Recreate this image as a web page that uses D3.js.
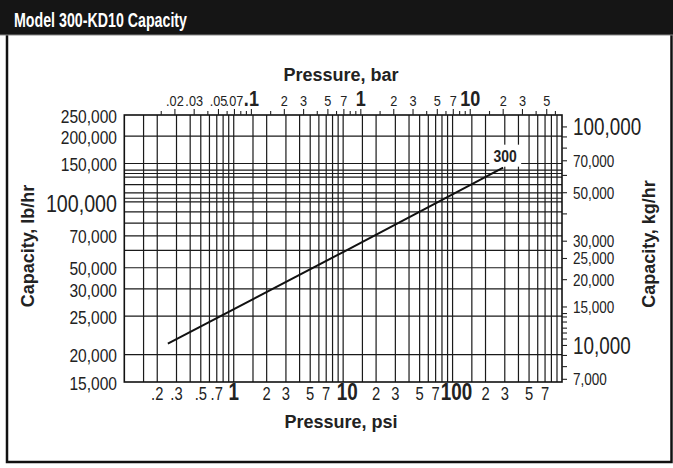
<!DOCTYPE html>
<html><head><meta charset="utf-8">
<script src="https://cdn.jsdelivr.net/npm/d3@7"></script>
<style>
html,body{margin:0;padding:0;background:#fff;}
svg{display:block;}
text{font-family:"Liberation Sans",Arial,Helvetica,sans-serif;fill:#222;}
</style></head>
<body>
<svg id="chart" width="673" height="468"></svg>
<script>
// ---------- data ----------
const titleText = "Model 300-KD10 Capacity";
const seriesName = "300";
// pressure (psi) vs capacity (lb/hr)
const curvePsi = [0.25, 10, 290];
const curveLb  = [22500, 59000, 143500];

// bottom axis (psi)
const psiDomain = [0.1, 1000];
const psiTickValues = [0.2,0.3,0.5,0.7,1,2,3,5,7,10,20,30,50,70,100,200,300,500,700];
const psiTickLabels = [".2",".3",".5",".7","1","2","3","5","7","10","2","3","5","7","100","2","3","5","7"];
const psiBold = [1,10,100];
const psiGrid = [0.15,0.2,0.3,0.4,0.5,0.6,0.7,0.8,0.9,1,1.5,2,3,4,5,6,7,8,9,10,15,20,30,40,50,60,70,80,90,100,150,200,300,400,500,600,700,800,900];

// top axis (bar)
const barTickValues = [0.02,0.03,0.05,0.07,0.1,0.2,0.3,0.5,0.7,1,2,3,5,7,10,20,30,50];
const barTickLabels = [".02",".03",".05",".07",".1","2","3","5","7","1","2","3","5","7","10","2","3","5"];
const barBold = [0.1,1,10];
const barMinorTicks = [0.015,0.04,0.06,0.08,0.09,0.15,0.4,0.6,0.8,0.9,1.5,4,6,8,9,15,40,60];
const psiPerBar = 14.5038;

// left axis (lb/hr)
const lbDomain = [15000, 250000];
const lbTickValues = [250000,200000,150000,100000,70000,50000,40000,30000,20000,15000];
const lbTickLabels = ["250,000","200,000","150,000","100,000","70,000","50,000","30,000","25,000","20,000","15,000"];
const lbGrid = [200000,150000,140000,135000,130000,120000,110000,104000,100000,90000,80000,70000,60000,50000,40000,30000,20000];

// right axis (kg/hr)
const kgPerLb = 1/2.2046;
const kgTickValues = [100000,70000,50000,30000,25000,20000,15000,10000,7000];
const kgTickLabels = ["100,000","70,000","50,000","30,000","25,000","20,000","15,000","10,000","7,000"];
const kgBig = [100000,10000];
const kgMinorTicks = [90000,80000,60000,40000,14000,13500,12800,12000,11400,10700,9000,8000];

// ---------- layout ----------
const W = 673, H = 468;
const L = 124.3, R = 562, T = 115, B = 382;
const SX = 0.82; // condensed type
const svg = d3.select("#chart");

const x = d3.scaleLog().domain(psiDomain).range([L, R]);
const xBar = d3.scaleLog().domain(psiDomain.map(d => d / psiPerBar)).range([L, R]);
const y = d3.scaleLog().domain(lbDomain).range([B, T]);
const yKg = d3.scaleLog().domain(lbDomain.map(d => d * kgPerLb)).range([B, T]);

// frame and header
svg.append("rect").attr("x",7).attr("y",30).attr("width",664.5).attr("height",432)
  .attr("fill","#fff").attr("stroke","#111").attr("stroke-width",2.5);
svg.append("rect").attr("x",0).attr("y",0).attr("width",W).attr("height",35).attr("fill","#151515");
svg.append("line").attr("x1",0).attr("x2",W).attr("y1",35).attr("y2",35).attr("stroke","#888").attr("stroke-width",1);
svg.append("text").attr("x",14).attr("y",27).text(titleText)
  .style("font-weight","bold").style("font-size","21px").style("fill","#fff")
  .attr("textLength",173).attr("lengthAdjust","spacingAndGlyphs");

// grid
const g = svg.append("g");
g.selectAll("line.vg").data(psiGrid).join("line").attr("class","vg")
  .attr("x1",d=>x(d)).attr("x2",d=>x(d)).attr("y1",T).attr("y2",B)
  .attr("stroke","#1a1a1a").attr("stroke-width",1.2);
g.selectAll("line.hg").data(lbGrid).join("line").attr("class","hg")
  .attr("x1",L).attr("x2",R).attr("y1",d=>y(d)).attr("y2",d=>y(d))
  .attr("stroke","#1a1a1a").attr("stroke-width",1.2);
g.append("rect").attr("x",L).attr("y",T).attr("width",R-L).attr("height",B-T)
  .attr("fill","none").attr("stroke","#111").attr("stroke-width",1.6);

// top axis (bar)
const topAx = svg.append("g");
topAx.selectAll("line.tmaj").data(barTickValues).join("line").attr("class","tmaj")
  .attr("x1",d=>xBar(d)).attr("x2",d=>xBar(d)).attr("y1",T).attr("y2",T-6)
  .attr("stroke","#222").attr("stroke-width",1.1);
topAx.selectAll("line.tmin").data(barMinorTicks).join("line").attr("class","tmin")
  .attr("x1",d=>xBar(d)).attr("x2",d=>xBar(d)).attr("y1",T).attr("y2",T-4)
  .attr("stroke","#222").attr("stroke-width",1.1);
topAx.selectAll("text").data(barTickValues).join("text")
  .attr("transform",d=>`translate(${xBar(d)},106) scale(${SX},1)`).attr("text-anchor","middle")
  .style("font-size",d=>barBold.includes(d)?"22px":"15.5px")
  .style("font-weight",d=>barBold.includes(d)?"bold":"normal")
  .text((d,i)=>barTickLabels[i]);
svg.append("text").attr("x",341).attr("y",81).attr("text-anchor","middle")
  .style("font-size","18px").style("font-weight","bold").text("Pressure, bar");

// bottom axis (psi)
const botAx = svg.append("g");
botAx.selectAll("text").data(psiTickValues).join("text")
  .attr("transform",d=>`translate(${x(d) + (d>=10 && psiBold.includes(d) ? 4 : 0)},400) scale(${SX},1)`)
  .attr("text-anchor","middle")
  .style("font-size",d=>psiBold.includes(d)?"23px":"18px")
  .style("font-weight",d=>psiBold.includes(d)?"bold":"normal")
  .text((d,i)=>psiTickLabels[i]);
svg.append("text").attr("x",341).attr("y",428).attr("text-anchor","middle")
  .style("font-size","18px").style("font-weight","bold").text("Pressure, psi");

// left axis (lb/hr)
svg.append("g").selectAll("text").data(lbTickValues).join("text")
  .attr("transform",d=>`translate(117,${y(d)}) scale(${SX},1)`).attr("dy","0.4em").attr("text-anchor","end")
  .style("font-size",d=>d===100000?"24px":"19px")
  .text((d,i)=>lbTickLabels[i]);
svg.append("text").attr("transform","translate(34,246) rotate(-90)").attr("text-anchor","middle")
  .style("font-size","18px").style("font-weight","bold").text("Capacity, lb/hr");

// right axis (kg/hr)
const rAx = svg.append("g");
rAx.selectAll("line.rmaj").data(kgTickValues.concat(kgMinorTicks)).join("line").attr("class","rmaj")
  .attr("x1",R).attr("x2",R+5).attr("y1",d=>yKg(d)).attr("y2",d=>yKg(d))
  .attr("stroke","#222").attr("stroke-width",1.1);
rAx.selectAll("text").data(kgTickValues).join("text")
  .attr("transform",d=>`translate(573,${yKg(d)}) scale(${SX},1)`).attr("dy","0.36em")
  .style("font-size",d=>kgBig.includes(d)?"23px":"16.5px")
  .text((d,i)=>kgTickLabels[i]);
svg.append("text").attr("transform","translate(655,244) rotate(-90)").attr("text-anchor","middle")
  .style("font-size","18px").style("font-weight","bold").text("Capacity, kg/hr");

// curve
const line = d3.line().x(d=>x(d[0])).y(d=>y(d[1]));
svg.append("path").datum(curvePsi.map((p,i)=>[p,curveLb[i]]))
  .attr("d",line).attr("fill","none").attr("stroke","#111").attr("stroke-width",2);

// series label with white box
const last = curvePsi.length-1;
const lx = x(curvePsi[last]) + 2, ly = y(curveLb[last]) - 12;
svg.append("rect").attr("x",lx-16).attr("y",ly-11).attr("width",32).attr("height",22).attr("fill","#fff");
svg.append("text").attr("transform",`translate(${lx},${ly}) scale(${SX},1)`).attr("dy","0.36em").attr("text-anchor","middle")
  .style("font-size","17px").style("font-weight","bold").text(seriesName);
</script>
</body></html>
